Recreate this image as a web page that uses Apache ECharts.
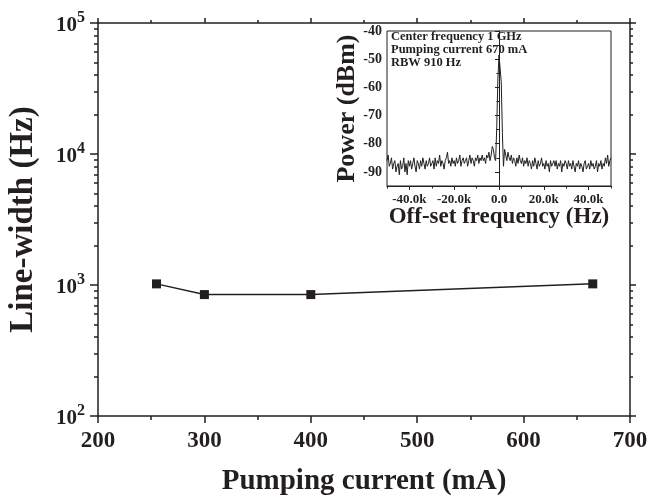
<!DOCTYPE html>
<html>
<head>
<meta charset="utf-8">
<title>Line-width vs pumping current</title>
<script src="https://cdn.jsdelivr.net/npm/echarts@6/dist/echarts.min.js"></script>
<style>
  html, body { margin: 0; padding: 0; background: #fff; }
  #chart { width: 648px; height: 499px; }
</style>
</head>
<body>
<div id="chart"></div>
<script>
// main plot: measured line-width at each pumping current
const currents = [255, 300, 400, 665];
const linewidths = [1020, 845, 845, 1020];
const yMinorTicks = [200, 300, 400, 500, 600, 700, 800, 900,
  2000, 3000, 4000, 5000, 6000, 7000, 8000, 9000,
  20000, 30000, 40000, 50000, 60000, 70000, 80000, 90000];

// inset: beat-note spectrum, one point per 500 Hz from -50 kHz
const spanStartHz = -50000;
const spanStepHz = 500;
const powerDbm = [
  -86, -84, -88, -87, -85, -89, -87, -86, -90, -88,
  -87, -91, -86, -89, -88, -85, -90, -87, -91, -86,
  -88, -86, -89, -87, -85, -88, -90, -86, -87, -89,
  -86, -88, -85, -87, -89, -86, -88, -87, -85, -88,
  -87, -86, -89, -85, -88, -86, -87, -84, -88, -86,
  -87, -89, -86, -85, -83, -87, -86, -88, -85, -87,
  -86, -88, -85, -87, -86, -84, -88, -86, -85, -87,
  -86, -85, -88, -86, -84, -87, -85, -86, -88, -85,
  -86, -84, -87, -85, -86, -84, -86, -85, -87, -84,
  -85, -83, -86, -84, -81, -82, -85, -86, -74, -57,
  -48.5, -48, -58, -76, -88, -82, -84, -86, -83, -85,
  -86, -84, -87, -85, -86, -88, -85, -87, -84, -86,
  -87, -85, -88, -86, -87, -85, -88, -86, -87, -89,
  -86, -88, -85, -87, -89, -86, -88, -87, -85, -88,
  -87, -89, -86, -88, -87, -90, -86, -88, -87, -86,
  -88, -86, -89, -87, -88, -86, -90, -87, -88, -86,
  -87, -89, -86, -88, -87, -89, -86, -88, -90, -87,
  -88, -86, -89, -87, -88, -90, -87, -86, -89, -88,
  -87, -89, -86, -88, -87, -89, -88, -86, -90, -87,
  -88, -86, -89, -87, -88, -85, -87, -84, -88, -86, -85
];
const insetXTicks = [-40000, -20000, 0, 20000, 40000];
const insetXMinor = [-50000, -30000, -10000, 10000, 30000, 50000];
const insetYTicks = [-90, -80, -70, -60, -50, -40];
const insetYMinor = [-95, -85, -75, -65, -55, -45];
const insetNotes = ["Center frequency 1 GHz", "Pumping current 670 mA", "RBW 910 Hz"];

const ink = "#231f20";
const serif = "Liberation Serif";

function bold(size) {
  return { fontFamily: serif, fontWeight: "bold", fontSize: size, color: ink };
}

const mainRect = { left: 98, top: 23, width: 532, height: 393 };
const insetRect = { left: 387, top: 31, width: 224, height: 155 };

// minor ticks of the log axis sit on a plain axis counted in decades
const minorDecades = yMinorTicks.map((v) => Math.log10(v));

const chart = echarts.init(document.getElementById("chart"));

const option = {
  animation: false,
  backgroundColor: "#fff",
  grid: [
    Object.assign({ outerBoundsMode: "none", containLabel: false }, mainRect),
    Object.assign({ outerBoundsMode: "none", containLabel: false, show: true,
      backgroundColor: "#fff", borderColor: ink, borderWidth: 1 }, insetRect),
    Object.assign({ outerBoundsMode: "none", containLabel: false }, mainRect),
    Object.assign({ outerBoundsMode: "none", containLabel: false }, insetRect)
  ],
  xAxis: [
    {
      type: "value", gridIndex: 0, position: "bottom",
      min: 200, max: 700, interval: 100,
      axisLine: { lineStyle: { color: ink, width: 1.5 } },
      axisTick: { length: 7, lineStyle: { color: ink, width: 1.5 } },
      minorTick: { show: true, splitNumber: 2, length: 4, lineStyle: { color: ink, width: 1.5 } },
      splitLine: { show: false },
      axisLabel: Object.assign({ margin: 14 }, bold(23)),
      name: "Pumping current (mA)", nameLocation: "middle", nameGap: 51,
      nameMoveOverlap: false,
      nameTextStyle: bold(29)
    },
    {
      type: "value", gridIndex: 0, position: "top",
      min: 200, max: 700, interval: 100,
      axisLine: { lineStyle: { color: ink, width: 1.5 } },
      axisTick: { length: 5, lineStyle: { color: ink, width: 1.5 } },
      minorTick: { show: true, splitNumber: 2, length: 3, lineStyle: { color: ink, width: 1.5 } },
      splitLine: { show: false },
      axisLabel: { show: false }
    },
    {
      type: "value", gridIndex: 1, position: "bottom",
      min: -50000, max: 50000,
      axisLine: { lineStyle: { color: ink, width: 1 } },
      axisTick: { customValues: insetXTicks, length: 4, lineStyle: { color: ink } },
      splitLine: { show: false },
      axisLabel: Object.assign({
        customValues: insetXTicks, margin: 7,
        formatter: (v) => (v === 0 ? "0.0" : (v / 1000).toFixed(1) + "k")
      }, bold(13)),
      name: "Off-set frequency (Hz)", nameLocation: "middle", nameGap: 20,
      nameMoveOverlap: false,
      nameTextStyle: bold(23)
    },
    {
      type: "value", gridIndex: 2, show: false, min: 200, max: 700
    },
    {
      type: "value", gridIndex: 3, position: "bottom",
      min: -50000, max: 50000,
      axisLine: { show: false },
      axisTick: { customValues: insetXMinor, length: 2.5, lineStyle: { color: ink } },
      splitLine: { show: false },
      axisLabel: { show: false }
    }
  ],
  yAxis: [
    {
      type: "log", logBase: 10, gridIndex: 0, position: "left",
      min: 100, max: 100000,
      axisLine: { lineStyle: { color: ink, width: 1.5 } },
      axisTick: { length: 8, lineStyle: { color: ink, width: 1.5 } },
      splitLine: { show: false },
      axisLabel: {
        margin: 13,
        formatter: (v) => "{b|10}{e|" + Math.round(Math.log10(v)) + "}",
        rich: {
          b: Object.assign({ padding: [5, 0, 0, 0] }, bold(21)),
          e: Object.assign({ padding: [0, 0, 11, 0] }, bold(16))
        }
      },
      name: "Line-width (Hz)", nameLocation: "middle", nameGap: 58,
      nameMoveOverlap: false,
      nameTextStyle: bold(33)
    },
    {
      type: "log", logBase: 10, gridIndex: 0, position: "right",
      min: 100, max: 100000,
      axisLine: { lineStyle: { color: ink, width: 1.5 } },
      axisTick: { length: 6, lineStyle: { color: ink, width: 1.5 } },
      splitLine: { show: false },
      axisLabel: { show: false }
    },
    {
      type: "value", gridIndex: 1, position: "left",
      min: -95, max: -40,
      axisLine: { lineStyle: { color: ink, width: 1 } },
      axisTick: { customValues: insetYTicks, length: 4, lineStyle: { color: ink } },
      splitLine: { show: false },
      axisLabel: Object.assign({ customValues: insetYTicks, margin: 5 }, bold(14)),
      name: "Power (dBm)", nameLocation: "middle", nameGap: 27,
      nameMoveOverlap: false,
      nameTextStyle: bold(26)
    },
    {
      type: "value", gridIndex: 2, position: "left",
      min: 2, max: 5,
      axisLine: { show: false },
      axisTick: { customValues: minorDecades, length: 4, lineStyle: { color: ink, width: 1.5 } },
      splitLine: { show: false },
      axisLabel: { show: false }
    },
    {
      type: "value", gridIndex: 2, position: "right",
      min: 2, max: 5,
      axisLine: { show: false },
      axisTick: { customValues: minorDecades, length: 3, lineStyle: { color: ink, width: 1.5 } },
      splitLine: { show: false },
      axisLabel: { show: false }
    },
    {
      type: "value", gridIndex: 3, position: "left",
      min: -95, max: -40,
      axisLine: { show: false },
      axisTick: { customValues: insetYMinor, length: 2.5, lineStyle: { color: ink } },
      splitLine: { show: false },
      axisLabel: { show: false }
    }
  ],
  graphic: [
    {
      type: "text", left: 391, top: 30, z: 100,
      style: {
        text: insetNotes.join("\n"),
        font: "bold 12.5px " + serif,
        lineHeight: 13.3,
        fill: ink
      }
    }
  ],
  series: [
    {
      type: "line", xAxisIndex: 0, yAxisIndex: 0,
      data: currents.map((c, i) => [c, linewidths[i]]),
      symbol: "rect", symbolSize: 9,
      itemStyle: { color: ink },
      lineStyle: { color: ink, width: 1.5 }
    },
    {
      type: "line", xAxisIndex: 2, yAxisIndex: 2,
      data: powerDbm.map((p, i) => [spanStartHz + i * spanStepHz, p]),
      showSymbol: false,
      lineStyle: { color: ink, width: 1 }
    }
  ]
};

chart.setOption(option);
</script>
</body>
</html>
